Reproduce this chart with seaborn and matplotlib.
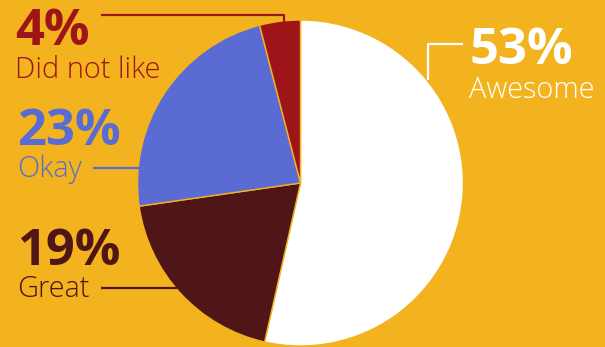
import matplotlib
matplotlib.use("Agg")
import matplotlib.pyplot as plt
import seaborn as sns

labels = ["Awesome", "Great", "Okay", "Did not like"]
values = [53, 19, 23, 4]
pct_text = ["53%", "19%", "23%", "4%"]
colors = ["#FFFFFF", "#501617", "#5A6BD4", "#9E1519"]
bg = "#F2B31E"

sns.set_theme(style="white")
plt.rcParams["font.family"] = ["Open Sans", "DejaVu Sans"]

W, H = 605, 347
fig = plt.figure(figsize=(W / 100, H / 100), dpi=100, facecolor=bg)
ax = fig.add_axes([0, 0, 1, 1])
ax.set_facecolor(bg)

cx, cy, r = 300.5, H - 183, 163
ax.pie(values, colors=colors, startangle=90, counterclock=False,
       center=(cx, cy), radius=r,
       wedgeprops=dict(edgecolor=bg, linewidth=1.0))
ax.set_xlim(0, W)
ax.set_ylim(0, H)
ax.set_aspect("equal")
ax.axis("off")

def Y(p):
    return H - p

# label placement (pixel coords from top)
place = {
    "Awesome": dict(x=469, yp=64, yl=98),
    "Great": dict(x=17, yp=265, yl=297),
    "Okay": dict(x=17, yp=145, yl=177),
    "Did not like": dict(x=15, yp=45, yl=78),
}
for lab, pt, col in zip(labels, pct_text, colors):
    p = place[lab]
    ax.text(p["x"], Y(p["yp"]), pt, color=col, fontsize=36.5, fontweight="bold",
            va="baseline", ha="left")
    ax.text(p["x"], Y(p["yl"]), lab, color=col, fontsize=20.8, fontweight=300,
            va="baseline", ha="left")

lw = 1.6
# leader lines
ax.plot([463, 428, 428], [Y(44), Y(44), Y(80)], color=colors[0], lw=lw, solid_capstyle="butt")
ax.plot([101, 284, 284], [Y(15), Y(15), Y(23)], color=colors[3], lw=lw, solid_capstyle="butt")
ax.plot([93, 139], [Y(168), Y(168)], color=colors[2], lw=lw, solid_capstyle="butt")
ax.plot([101, 177], [Y(288), Y(288)], color=colors[1], lw=lw, solid_capstyle="butt")

fig.savefig("out.png", dpi=100, facecolor=bg)
